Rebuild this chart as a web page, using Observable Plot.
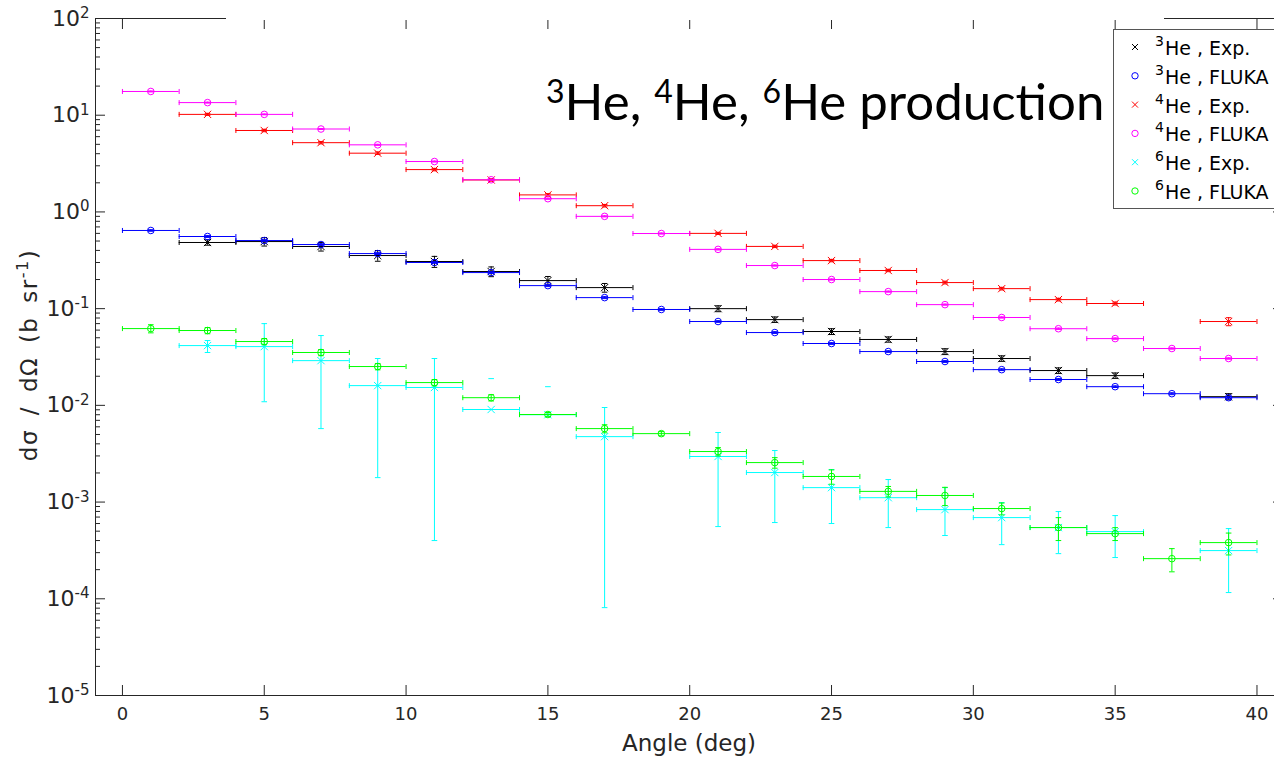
<!DOCTYPE html>
<html><head><meta charset="utf-8">
<script src="https://cdn.jsdelivr.net/npm/d3@7"></script>
<script src="https://cdn.jsdelivr.net/npm/@observablehq/plot@0.6"></script>
<style>
html,body{margin:0;padding:0;background:#fff;overflow:hidden;}
#wrap{position:relative;width:1274px;height:757px;overflow:hidden;background:#fff;}
#wrap svg{position:absolute;left:0;top:0;max-width:none !important;}
</style></head><body><div id="wrap"></div>
<script>
// ---- data ----
const angles = [1,3,5,7,9,11,13,15,17,19,21,23,25,27,29,31,33,35,37,39];
const binHalfWidth = 1;

const he3Exp    = [null,0.483,0.494,0.439,0.354,0.307,0.242,0.195,0.165,null,0.100,0.077,0.058,0.048,0.036,0.0305,0.0229,0.0203,null,0.0123];
const he3ExpErr = [null,0.03,0.05,0.045,0.045,0.04,0.028,0.02,0.017,null,0.007,0.005,0.004,0.003,0.0025,0.002,0.0015,0.0013,null,0.0009];

const he3Fluka    = [0.643,0.557,0.506,0.460,0.371,0.300,0.236,0.173,0.130,0.098,0.0736,0.0566,0.0436,0.036,0.0284,0.0234,0.0185,0.0156,0.0132,0.0120];
const he3FlukaErr = [0.012,0.012,0.01,0.009,0.008,0.006,0.005,0.004,0.003,0.002,0.0015,0.0012,0.0009,0.0007,0.0006,0.0005,0.0004,0.0003,0.0003,0.0003];

const he4Exp    = [null,10.2,6.95,5.2,4.05,2.74,2.14,1.50,1.16,null,0.60,0.44,0.314,0.248,0.186,0.161,0.124,0.113,null,0.0736];
const he4ExpErr = [null,0.25,0.2,0.15,0.12,0.08,0.06,0.045,0.035,null,0.015,0.012,0.009,0.007,0.006,0.005,0.004,0.004,null,0.007];

const he4Fluka    = [17.6,13.5,10.2,7.2,4.94,3.32,2.15,1.37,0.90,0.598,0.41,0.279,0.20,0.150,0.110,0.081,0.062,0.049,0.0387,0.0305];
const he4FlukaErr = [0.2,0.15,0.1,0.08,0.06,0.04,0.03,0.02,0.012,0.008,0.006,0.004,0.003,0.002,0.0015,0.0012,0.001,0.0008,0.0006,0.0005];

const he6Exp   = [null,0.0415,0.0405,0.029,0.016,0.0153,0.00906,0.0080,0.00475,null,0.00296,0.00202,0.00141,0.00111,0.000836,0.000691,0.000545,0.000495,null,0.000315];
const he6ExpHi = [null,0.0468,0.070,0.0527,0.0305,0.0305,0.0189,0.0156,0.0095,null,0.00524,0.00341,0.00217,0.00171,0.00141,0.000989,0.000798,0.000725,null,0.000532];
const he6ExpLo = [null,0.0352,0.0109,0.00575,0.00179,0.0004,null,null,0.000081,null,0.000558,0.000614,0.0006,0.000545,0.000451,0.000363,0.000293,0.000267,null,0.000116];

const he6Fluka    = [0.0622,0.0594,0.0457,0.0352,0.0252,0.0172,0.0120,0.00804,0.00575,0.0051,0.00333,0.00256,0.00184,0.00129,0.00117,0.000857,0.000545,0.000472,0.00026,0.000381];
const he6FlukaErr = [0.006,0.0044,0.0034,0.0026,0.0019,0.0013,0.0009,0.0004,0.00055,0.00025,0.00033,0.00032,0.00031,0.00016,0.00025,0.00012,0.000145,0.000072,0.00007,0.000097];

const xTicks = [0,5,10,15,20,25,30,35,40];
const yMajor = [1e-5,1e-4,1e-3,1e-2,1e-1,1,10,100];
const yMinor = [];
for (let k = -5; k < 2; k++) for (let m = 2; m <= 9; m++) yMinor.push(m * Math.pow(10, k));

const titleParts = [["3","He, "],["4","He, "],["6","He production"]];
const xLabel = "Angle (deg)";

// ---- build rows ----
function symRows(vals, err) {
  return angles.map((a, i) => {
    const v = vals[i], e = err ? err[i] : null;
    if (v == null) return null;
    const lo = e != null && v - e > 0 ? v - e : null;
    const hi = e != null ? v + e : null;
    return {angle: a, v, lo, hi};
  }).filter(d => d);
}
function loHiRows(vals, lo, hi) {
  return angles.map((a, i) => vals[i] == null ? null : {angle: a, v: vals[i], lo: lo[i], hi: hi[i]}).filter(d => d);
}

const series = [
  {sup: "3", text: "He , Exp.",   color: "#000000", marker: "times",  rows: symRows(he3Exp, he3ExpErr)},
  {sup: "3", text: "He , FLUKA",  color: "#0000ff", marker: "circle", rows: symRows(he3Fluka, he3FlukaErr)},
  {sup: "4", text: "He , Exp.",   color: "#ff0000", marker: "times",  rows: symRows(he4Exp, he4ExpErr)},
  {sup: "4", text: "He , FLUKA",  color: "#ff00ff", marker: "circle", rows: symRows(he4Fluka, he4FlukaErr)},
  {sup: "6", text: "He , Exp.",   color: "#00ffff", marker: "times",  rows: loHiRows(he6Exp, he6ExpLo, he6ExpHi)},
  {sup: "6", text: "He , FLUKA",  color: "#00ff00", marker: "circle", rows: symRows(he6Fluka, he6FlukaErr)}
];

// custom cap symbols
const vSeg = {draw(ctx, size) { const r = Math.sqrt(size / Math.PI); ctx.moveTo(0, -r); ctx.lineTo(0, r); }};
const hSeg = {draw(ctx, size) { const r = Math.sqrt(size / Math.PI); ctx.moveTo(-r, 0); ctx.lineTo(r, 0); }};

const axisColor = "#262626";
const marks = [];
for (const s of series) {
  const c = s.color;
  marks.push(Plot.ruleY(s.rows, {y: "v", x1: d => d.angle - binHalfWidth, x2: d => d.angle + binHalfWidth, stroke: c, strokeWidth: 1}));
  marks.push(Plot.dot(s.rows, {x: d => d.angle - binHalfWidth, y: "v", symbol: vSeg, r: 2.5, stroke: c, fill: "none", strokeWidth: 1}));
  marks.push(Plot.dot(s.rows, {x: d => d.angle + binHalfWidth, y: "v", symbol: vSeg, r: 2.5, stroke: c, fill: "none", strokeWidth: 1}));
  marks.push(Plot.ruleX(s.rows.filter(d => d.lo != null && d.hi != null), {x: "angle", y1: "lo", y2: "hi", stroke: c, strokeWidth: 1}));
  marks.push(Plot.dot(s.rows.filter(d => d.lo != null), {x: "angle", y: "lo", symbol: hSeg, r: 2.8, stroke: c, fill: "none", strokeWidth: 1}));
  marks.push(Plot.dot(s.rows.filter(d => d.hi != null), {x: "angle", y: "hi", symbol: hSeg, r: 2.8, stroke: c, fill: "none", strokeWidth: 1}));
  marks.push(Plot.dot(s.rows, {x: "angle", y: "v", symbol: s.marker, r: s.marker === "circle" ? 3.3 : 3.4, stroke: c, fill: "none", strokeWidth: 1}));
}

const chart = Plot.plot({
  width: 1290, height: 757,
  marginLeft: 95, marginRight: 8, marginTop: 18, marginBottom: 62,
  style: {background: "transparent", fontFamily: "DejaVu Sans", color: axisColor, overflow: "visible", maxWidth: "none"},
  x: {domain: [-0.95, 40.9]},
  y: {type: "log", domain: [1e-5, 100]},
  marks: [
    ...marks,
    Plot.axisY({anchor: "left", ticks: yMajor, tickSize: 10, dx: 10, tickFormat: () => "", label: null, stroke: axisColor}),
    Plot.axisY({anchor: "left", ticks: yMinor, tickSize: 5, dx: 5, tickFormat: () => "", label: null, stroke: axisColor}),
    Plot.axisY({anchor: "right", ticks: yMajor, tickSize: 10, dx: -10, tickFormat: () => "", label: null, stroke: axisColor}),
    Plot.axisY({anchor: "right", ticks: yMinor, tickSize: 5, dx: -5, tickFormat: () => "", label: null, stroke: axisColor}),
    Plot.axisY({anchor: "left", ticks: yMajor, tickSize: 0, tickPadding: 6, label: null, fontSize: 22,
      tickFormat: d => "10^" + Math.round(Math.log10(d))}),
    Plot.axisX({anchor: "bottom", ticks: xTicks, tickSize: 10, dy: -10, tickFormat: () => "", label: null, stroke: axisColor}),
    Plot.axisX({anchor: "top", ticks: xTicks, tickSize: 10, dy: 10, tickFormat: () => "", label: null, stroke: axisColor}),
    Plot.axisX({anchor: "bottom", ticks: xTicks, tickSize: 0, tickPadding: 12, label: null, fontSize: 18, tickFormat: d => String(d)}),
    Plot.frame({stroke: axisColor, strokeWidth: 1})
  ]
});

// superscript exponents on y tick labels
d3.select(chart).selectAll("text").each(function() {
  const t = d3.select(this);
  const s = t.text();
  if (/^10\^-?\d+$/.test(s)) {
    const [b, e] = s.split("^");
    t.text(null);
    t.append("tspan").text(b);
    t.append("tspan").attr("dy", "-0.5em").attr("font-size", "15px").text(e);
  }
});

const wrap = document.getElementById("wrap");
chart.style.maxWidth = "none";
wrap.appendChild(chart);

// ---- overlay (title box, legend, axis labels) ----
const ov = d3.select(wrap).append("svg").attr("width", 1274).attr("height", 757)
  .style("font-family", "DejaVu Sans");

// white title box covering part of the top border
ov.append("rect").attr("x", 226).attr("y", 0).attr("width", 938).attr("height", 20).attr("fill", "#fff");

// overlaid title
const tt = ov.append("text").attr("x", 546).attr("y", 120).attr("font-family", "Lato").attr("font-size", 51).attr("fill", "#000");
for (const [sup, txt] of titleParts) {
  tt.append("tspan").attr("font-size", 32).attr("dy", -17).text(sup);
  tt.append("tspan").attr("dy", 17).text(txt);
}

// x label
ov.append("text").attr("x", 689).attr("y", 751).attr("text-anchor", "middle").attr("font-size", 23).attr("fill", axisColor).text(xLabel);

// y label
const yl = ov.append("text").attr("transform", "translate(37,355) rotate(-90)").attr("text-anchor", "middle")
  .attr("font-size", 23).attr("fill", axisColor).attr("letter-spacing", 1.5).attr("word-spacing", 5);
yl.append("tspan").text("d\u03c3 / d\u03a9 (b sr");
yl.append("tspan").attr("font-size", 16).attr("dy", -9).text("-1");
yl.append("tspan").attr("dy", 9).text(")");

// legend
ov.append("rect").attr("x", 1113.5).attr("y", 29.5).attr("width", 200).attr("height", 179)
  .attr("fill", "#fff").attr("stroke", "#555").attr("stroke-width", 1);
series.forEach((s, i) => {
  const cy = 47 + i * 28.8;
  const g = ov.append("g");
  if (s.marker === "circle") {
    g.append("circle").attr("cx", 1135).attr("cy", cy).attr("r", 3.2).attr("fill", "none").attr("stroke", s.color);
  } else {
    g.append("path").attr("d", `M${1132},${cy-3}L${1138},${cy+3}M${1132},${cy+3}L${1138},${cy-3}`).attr("stroke", s.color).attr("fill", "none");
  }
  const t = g.append("text").attr("x", 1155).attr("y", cy + 8).attr("font-size", 19).attr("fill", "#000");
  t.append("tspan").attr("font-size", 14).attr("dy", -9).text(s.sup);
  t.append("tspan").attr("dy", 9).attr("dx", 1).text(s.text);
});
</script></body></html>
